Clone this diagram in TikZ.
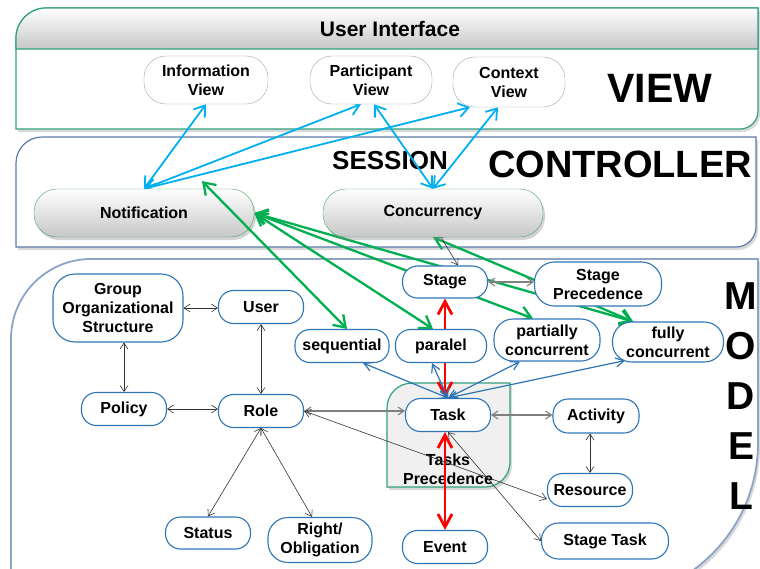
\documentclass[tikz,border=0pt]{standalone}
\usepackage{fontspec}
\setmainfont{Liberation Sans}
\usetikzlibrary{arrows.meta,shadows}

\definecolor{cyanline}{RGB}{0,176,240}
\definecolor{greenline}{RGB}{0,176,80}
\definecolor{modelblue}{RGB}{46,117,182}
\definecolor{viewteal}{RGB}{50,160,130}
\definecolor{ctrlblue}{RGB}{90,125,170}
\definecolor{modelframe}{RGB}{140,165,197}
\definecolor{ctrlgreen}{RGB}{70,165,100}

\pgfdeclarelayer{panels}
\pgfdeclarelayer{wires}
\pgfsetlayers{panels,wires,main}

\begin{document}
\begin{tikzpicture}[x=1pt, y=-1pt,
  every node/.style={font=\fontsize{16}{19}\selectfont\bfseries, inner sep=0pt, align=center},
  paneltitle/.style={font=\fontsize{#1}{#1}\selectfont\bfseries, anchor=base},
  panelframe/.style={fill=white, line width=1.2pt,
    drop shadow={opacity=0.3, shadow xshift=2pt, shadow yshift=-3pt}},
  viewbox/.style={draw=black!35, fill=white, rounded corners=22pt, minimum height=48pt},
  ctrlbox/.style={draw=ctrlgreen, top color=white, bottom color=black!22,
    rounded corners=23pt, minimum width=220pt, minimum height=48pt,
    drop shadow={opacity=0.35, shadow xshift=2pt, shadow yshift=-3pt}},
  mbox/.style={draw=modelblue, line width=1.1pt, fill=white, rounded corners=15pt,
    minimum width=85pt, minimum height=33pt},
  cyanarr/.style={<->, >={Straight Barb[length=10pt,width=14pt]}, cyanline, line width=1.8pt},
  greenarr/.style={<->, >={Straight Barb[length=11pt,width=15pt]}, greenline, line width=2.3pt},
  redarr/.style={<->, >={Straight Barb[length=13pt,width=14pt]}, red, line width=2.8pt},
  bluearr/.style={<->, >={Straight Barb[length=8pt,width=9pt]}, modelblue, line width=1.2pt},
  thinarr/.style={<->, >={Straight Barb[length=6pt,width=8pt]}, black!80, line width=0.6pt},
  grayarr/.style={thinarr, black!50, line width=1.1pt}
]
\useasboundingbox (0,0) rectangle (760,568);

\node[viewbox, minimum width=124pt] (infoview) at (206,80) {Information\\View};
\node[viewbox, minimum width=122pt] (partview) at (371,80) {Participant\\View};
\node[viewbox, minimum width=112pt, minimum height=50pt] (ctxview) at (509,82) {Context\\View};

\node[ctrlbox] (notif) at (144,213) {Notification};
\node[ctrlbox] (concur) at (433,213) {Concurrency};
\coordinate (seqtip) at (202,181);

\node[mbox, minimum width=130pt, minimum height=68pt, rounded corners=22pt] (group) at (118,308) {Group\\Organizational\\Structure};
\node[mbox] (user) at (261,307) {User};
\node[mbox] (policy) at (124,409) {Policy};
\node[mbox] (role) at (261,411) {Role};
\node[mbox, minimum height=32pt] (status) at (208,533) {Status};
\node[mbox, minimum width=104pt, minimum height=45pt, rounded corners=20pt] (right) at (320,540) {Right/\\Obligation};
\node[mbox, minimum width=94pt] (seq) at (342,346) {sequential};
\node[mbox, minimum width=91pt] (par) at (441,346) {paralel};
\node[mbox, minimum height=32pt] (stage) at (445,282) {Stage};
\node[mbox, minimum width=127pt, minimum height=44pt, rounded corners=20pt] (stageprec) at (598,284) {Stage\\Precedence};
\node[mbox, minimum width=106pt, minimum height=42pt, rounded corners=19pt] (partial) at (547,340) {partially\\concurrent};
\node[mbox, minimum width=111pt, minimum height=40pt, rounded corners=19pt] (fully) at (668,342) {fully\\concurrent};
\node[mbox] (task) at (448,415) {Task};
\node[mbox, minimum width=86pt, minimum height=34pt] (activity) at (596,416) {Activity};
\node[mbox] (resource) at (590,490) {Resource};
\node[mbox, minimum width=127pt, minimum height=36pt, rounded corners=17pt] (stagetask) at (605,541) {Stage Task};
\node[mbox] (event) at (445,547) {Event};

\begin{pgfonlayer}{panels}
\begin{scope}
\clip (0,0) rectangle (760,568);
\path[panelframe, draw=viewteal] (16,129) -- (16,38) arc[start angle=180, end angle=90, radius=30pt]
  -- (758,8) -- (758,111) arc[start angle=0, end angle=-90, radius=18pt] -- cycle;
\shade[top color=white, bottom color=black!22, draw=viewteal, line width=1.2pt]
  (16,49) -- (16,38) arc[start angle=180, end angle=90, radius=30pt] -- (758,8) -- (758,49) -- cycle;
\path[panelframe, draw=ctrlblue] (16,247) -- (16,163) arc[start angle=180, end angle=90, radius=26pt]
  -- (756,137) -- (756,227) arc[start angle=0, end angle=-90, radius=20pt] -- cycle;
\path[panelframe, draw=modelframe, line width=1.8pt] (11,600) -- (11,339) arc[start angle=180, end angle=90, radius=80pt]
  -- (758,259) -- (758,443) arc[start angle=0, end angle=-90, radius=157pt] -- cycle;
\path[panelframe, draw=viewteal, fill=black!6] (387,487) -- (387,408) arc[start angle=180, end angle=90, radius=25pt]
  -- (510,383) -- (510,462) arc[start angle=0, end angle=-90, radius=25pt] -- cycle;
\end{scope}
\node (precedence) at (448,469) {Tasks\\Precedence};
\node[paneltitle=21] (uititle) at (390,36) {User Interface};
\node[paneltitle=41] (viewtitle) at (660,102) {VIEW};
\node[paneltitle=26] (sessiontitle) at (390,169) {SESSION};
\node[paneltitle=38] (ctrltitle) at (620,177) {CONTROLLER};
\node[font=\fontsize{39}{50}\selectfont\bfseries, anchor=north] (modeltitle) at (741,282) {M\\O\\D\\E\\L};
\end{pgfonlayer}

\begin{pgfonlayer}{wires}
\draw[cyanarr] (notif.north) -- (infoview.south);
\draw[cyanarr] (notif.north) -- ([xshift=-10pt]partview.south);
\draw[cyanarr] (notif.north) -- ([xshift=-39pt]ctxview.south);
\draw[cyanarr] (concur.north) -- ([xshift=3pt]partview.south);
\draw[cyanarr] (concur.north) -- ([xshift=-11pt]ctxview.south);

\draw[greenarr] (notif.east) -- ([xshift=-8pt]par.north);
\draw[greenarr] (notif.east) -- ([xshift=-14pt]partial.north);
\draw[greenarr] (notif.east) -- ([xshift=-35pt]fully.north);
\draw[greenarr] (concur.south) -- ([xshift=-35pt]fully.north);

\draw[redarr] (stage.south) -- (stage.south |- task.north);
\draw[redarr] (event.north |- task.south) -- (event.north);

\draw[bluearr] (task.north) -- ([xshift=21pt]seq.south);
\draw[bluearr] (task.north) -- ([xshift=-9pt]par.south);
\draw[bluearr] (task.north) -- ([xshift=-27pt]partial.south);
\draw[bluearr] (task.north) -- ([xshift=-43pt, yshift=2pt]fully.south);

\draw[thinarr] (group.east) -- (group.east -| user.west);
\draw[thinarr] (policy.north |- group.south) -- (policy.north);
\draw[thinarr] (user.south) -- (role.north);
\draw[thinarr] (policy.east) -- (policy.east -| role.west);
\draw[grayarr] (role.east) -- (role.east -| task.west);
\draw[thinarr] (role.east) -- ([yshift=-9pt]resource.west);
\draw[thinarr] (role.south) -- (status.north);
\draw[thinarr] (role.south) -- ([xshift=-8pt]right.north);
\draw[grayarr] (task.east) -- (task.east -| activity.west);
\draw[thinarr] (resource.north |- activity.south) -- (resource.north);
\draw[thinarr] (task.south) -- (stagetask.west);
\draw[grayarr] (stage.east) -- (stage.east -| stageprec.west);
\draw[thinarr, ->] ([xshift=8pt]concur.south) -- ([xshift=13pt]stage.north);
\end{pgfonlayer}

\draw[greenarr] (seqtip) -- ([xshift=5pt]seq.north);
\end{tikzpicture}
\end{document}
